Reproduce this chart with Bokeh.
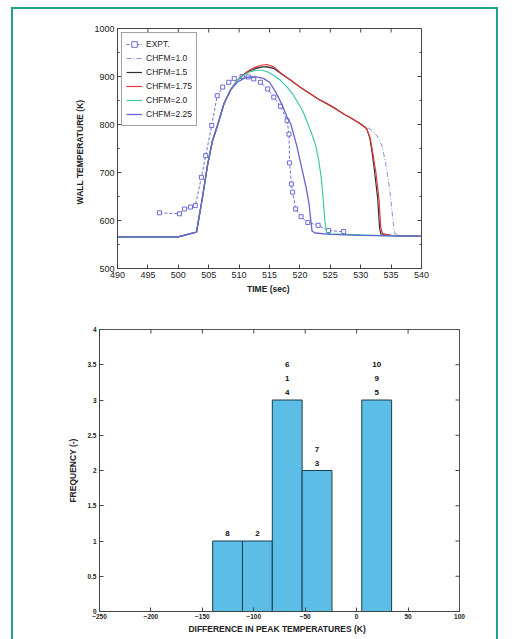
import math
from bokeh.plotting import figure
from bokeh.models import FixedTicker, Legend, LegendItem, ColumnDataSource
from bokeh.core.properties import value
from bokeh.embed import file_html
from bokeh.resources import INLINE

FONT = "Liberation Sans"
FRAME = "#1fa58e"

# ---------------- wall temperature transients ----------------
expt_t = [496.9, 500.2, 501.0, 502.0, 502.8, 503.8, 504.5, 505.5, 506.4, 507.3, 508.3, 509.2,
          510.5, 511.5, 512.4, 513.5, 514.7, 515.7, 516.8, 517.9, 518.2, 518.3, 518.6, 518.8,
          519.3, 520.2, 521.3, 523.0, 524.7, 527.2]
expt_T = [616, 614, 624, 628, 631, 690, 735, 798, 860, 878, 888, 896,
          900, 899, 895, 888, 874, 857, 838, 808, 780, 720, 676, 659,
          624, 608, 596, 590, 579, 577]

chfm10_t = [490, 500, 503, 504, 504.8, 505.6, 506.5, 507.5, 508.6, 509.7, 510.8, 511.8, 512.8,
            513.8, 514.6, 515.7, 517, 518.5, 520, 521.7, 523, 524.5, 526, 527.2, 528.6, 530,
            531, 532, 532.7, 533.5, 534.1, 534.6, 535.0, 535.3, 535.6, 536.5, 540]
chfm10_T = [566, 566, 576, 650, 715, 765, 800, 843, 872, 892, 904, 912, 917,
            920, 920, 917, 905, 892, 878, 864, 853, 843, 832, 822, 812, 801,
            795, 786, 776, 756, 720, 680, 640, 600, 573, 569, 567]

chfm15_t = [490, 500, 503, 504, 504.8, 505.6, 506.5, 507.5, 508.6, 509.7, 510.8, 511.8, 512.8,
            513.8, 514.6, 515.7, 517, 518.5, 520, 521.7, 523, 524.5, 526, 527.2, 528.6, 530,
            531, 531.5, 531.9, 532.3, 532.8, 533.1, 533.3, 535, 540]
chfm15_T = [566, 566, 576, 650, 715, 765, 800, 843, 872, 892, 904, 912, 917,
            920, 920, 917, 905, 892, 878, 864, 853, 843, 832, 822, 812, 801,
            791, 772, 740, 700, 645, 585, 572, 569, 567]

chfm175_t = [490, 500, 503, 504, 504.8, 505.6, 506.5, 507.5, 508.6, 509.7, 510.8, 511.8, 512.8,
             513.8, 514.6, 515.7, 517, 518.5, 520, 521.7, 523, 524.5, 526, 527.2, 528.6, 530,
             531, 531.6, 532.0, 532.5, 533.0, 533.3, 533.6, 535, 540]
chfm175_T = [566, 566, 576, 650, 715, 765, 800, 843, 872, 892, 905, 914, 920,
             924, 925, 920, 906, 892, 878, 864, 853, 843, 832, 822, 812, 801,
             791, 770, 740, 700, 645, 585, 572, 569, 567]

chfm20_t = [490, 500, 503, 504, 504.8, 505.6, 506.5, 507.5, 508.6, 509.7, 510.8, 511.8, 512.8,
            513.8, 514.8, 515.7, 516.8, 517.9, 518.8, 519.6, 520.5, 521.2, 521.9, 522.6, 523.1,
            523.5, 523.8, 524.1, 524.4, 525, 530, 535, 540]
chfm20_T = [566, 566, 576, 650, 715, 765, 800, 843, 872, 892, 903, 910, 913,
            913, 909, 902, 892, 878, 864, 847, 827, 805, 782, 756, 725,
            690, 650, 600, 574, 572, 570, 568, 567]

chfm225_t = [490, 500, 503, 504, 504.8, 505.6, 506.5, 507.5, 508.6, 509.7, 510.8, 511.8, 512.8,
             514, 515, 516, 517, 518, 518.5, 519.5, 520.4, 521.0, 521.5, 521.8, 522.0, 522.5,
             525, 530, 535, 540]
chfm225_T = [566, 566, 576, 650, 715, 765, 800, 843, 872, 888, 896, 899, 899,
             896, 888, 868, 843, 812, 801, 755, 704, 670, 635, 600, 578, 574,
             571, 569, 568, 567]

time_ticks = [490, 495, 500, 505, 510, 515, 520, 525, 530, 535, 540]
temp_ticks = [500, 600, 700, 800, 900, 1000]
temp_minor = [550, 650, 750, 850, 950]

# ---------------- peak temperature difference histogram ----------------
bin_edges = [-140, -111, -82, -53, -24, 5, 34]
bin_counts = [1, 1, 3, 2, 0, 3]
bin_cases = [["8"], ["2"], ["4", "1", "6"], ["3", "7"], [], ["5", "9", "10"]]
diff_ticks = [-250, -200, -150, -100, -50, 0, 50, 100]
freq_ticks = [0, 0.5, 1, 1.5, 2, 2.5, 3, 3.5, 4]
freq_tick_labels = ["0", "0.5", "1", "1.5", "2", "2.5", "3", "3.5", "4"]

AX = "#444444"


def style_axis(ax, ticks, font_size, bold, minor=None):
    ax.ticker = FixedTicker(ticks=ticks, minor_ticks=minor or [])
    ax.axis_line_color = AX
    ax.major_tick_line_color = AX
    ax.minor_tick_line_color = AX
    ax.major_tick_in = 4
    ax.major_tick_out = 0
    ax.minor_tick_in = 2
    ax.minor_tick_out = 0
    ax.major_label_text_font = FONT
    ax.major_label_text_color = "#222222"
    ax.major_label_text_font_size = font_size
    ax.major_label_text_font_style = "bold" if bold else "normal"
    ax.axis_label_text_font = FONT
    ax.axis_label_text_font_style = "bold"
    ax.axis_label_text_color = "#222222"


def mirror_ticks(p, xs, ys, vertical, size):
    # inward tick marks on the top / right frame edges (half of each dash is clipped away)
    p.scatter(xs, ys, marker="dash", size=size, angle=math.pi / 2 if vertical else 0,
              line_color=AX, line_width=1)


# ----- top: temperature transients -----
p1 = figure(width=487, height=291, x_range=(time_ticks[0], time_ticks[-1]),
            y_range=(temp_ticks[0], temp_ticks[-1]),
            output_backend="svg", toolbar_location=None,
            min_border_left=104, min_border_right=79, min_border_top=19, min_border_bottom=32,
            x_axis_label="TIME  (sec)", y_axis_label="WALL  TEMPERATURE   (K)",
            styles={"border-left": f"2px solid {FRAME}", "border-top": f"2px solid {FRAME}",
                    "border-right": f"2px solid {FRAME}", "margin-left": "11px",
                    "margin-top": "7px"})
p1.grid.visible = False
p1.outline_line_color = AX
p1.border_fill_color = "white"

style_axis(p1.xaxis[0], time_ticks, "9px", False)
style_axis(p1.yaxis[0], temp_ticks, "9px", False, minor=temp_minor)
p1.xaxis[0].axis_label_text_font_size = "8.5px"
p1.yaxis[0].axis_label_text_font_size = "8.5px"
p1.xaxis[0].major_label_standoff = 3
p1.yaxis[0].major_label_standoff = 3
p1.xaxis[0].axis_label_standoff = 3
p1.yaxis[0].axis_label_standoff = 6

mirror_ticks(p1, time_ticks, [temp_ticks[-1]] * len(time_ticks), True, 8)
mirror_ticks(p1, [time_ticks[-1]] * len(temp_ticks), temp_ticks, False, 8)
mirror_ticks(p1, [time_ticks[-1]] * len(temp_minor), temp_minor, False, 4)

r_e1 = p1.line(expt_t, expt_T, line_color="#6a6ad8", line_width=1, line_dash="3 2")
r_e2 = p1.scatter(expt_t, expt_T, marker="square", size=4, fill_color="white",
                  line_color="#6a6ad8", line_width=1)
r10 = p1.line(chfm10_t, chfm10_T, line_color="#8c8ce6", line_width=1, line_dash="5 2 1 2")
r15 = p1.line(chfm15_t, chfm15_T, line_color="#303030", line_width=1.2)
r175 = p1.line(chfm175_t, chfm175_T, line_color="#e23a3a", line_width=1.2)
r20 = p1.line(chfm20_t, chfm20_T, line_color="#3ccaa0", line_width=1.2)
r225 = p1.line(chfm225_t, chfm225_T, line_color="#6464d4", line_width=1.3)

legend = Legend(items=[
    LegendItem(label="EXPT.", renderers=[r_e1, r_e2]),
    LegendItem(label="CHFM=1.0", renderers=[r10]),
    LegendItem(label="CHFM=1.5", renderers=[r15]),
    LegendItem(label="CHFM=1.75", renderers=[r175]),
    LegendItem(label="CHFM=2.0", renderers=[r20]),
    LegendItem(label="CHFM=2.25", renderers=[r225]),
], location="top_left")
legend.margin = 4
legend.padding = 4
legend.spacing = 0
legend.glyph_width = 16
legend.glyph_height = 14
legend.label_height = 14
legend.label_standoff = 4
legend.label_text_font = FONT
legend.label_text_font_size = "8.5px"
legend.label_text_color = "#222222"
legend.border_line_color = AX
legend.border_line_width = 1
legend.background_fill_alpha = 1
p1.add_layout(legend)

# ----- bottom: histogram of peak temperature differences -----
p2 = figure(width=487, height=345, x_range=(diff_ticks[0], diff_ticks[-1]),
            y_range=(freq_ticks[0], freq_ticks[-1]),
            output_backend="svg", toolbar_location=None,
            min_border_left=86, min_border_right=41, min_border_top=31, min_border_bottom=32,
            x_axis_label="DIFFERENCE IN PEAK TEMPERATURES   (K)", y_axis_label="FREQUENCY (-)",
            styles={"border-left": f"2px solid {FRAME}", "border-right": f"2px solid {FRAME}",
                    "margin-left": "11px"})
p2.grid.visible = False
p2.outline_line_color = "#555555"
p2.border_fill_color = "white"

style_axis(p2.xaxis[0], diff_ticks, "6.5px", True)
style_axis(p2.yaxis[0], freq_ticks, "6.5px", True)
p2.yaxis[0].major_label_overrides = {t: s for t, s in zip(freq_ticks, freq_tick_labels)}
p2.xaxis[0].axis_label_text_font_size = "8.5px"
p2.yaxis[0].axis_label_text_font_size = "8.5px"
p2.xaxis[0].major_label_standoff = 2
p2.yaxis[0].major_label_standoff = 3
p2.xaxis[0].axis_label_standoff = 2
p2.yaxis[0].axis_label_standoff = 6

mirror_ticks(p2, diff_ticks, [freq_ticks[-1]] * len(diff_ticks), True, 8)
mirror_ticks(p2, [diff_ticks[-1]] * len(freq_ticks), freq_ticks, False, 8)

bars = ColumnDataSource(dict(
    left=[l for l, c in zip(bin_edges[:-1], bin_counts) if c > 0],
    right=[r for r, c in zip(bin_edges[1:], bin_counts) if c > 0],
    top=[c for c in bin_counts if c > 0],
))
p2.quad(left="left", right="right", bottom=0, top="top", source=bars,
        fill_color="#5cbde6", line_color="#1d3d4c", line_width=1)

lab_x, lab_y, lab_t = [], [], []
for i, cases in enumerate(bin_cases):
    centre = 0.5 * (bin_edges[i] + bin_edges[i + 1])
    for j, case in enumerate(cases):
        lab_x.append(centre)
        lab_y.append(bin_counts[i] + 0.1 + 0.2 * j)
        lab_t.append(case)
p2.text(x=lab_x, y=lab_y, text=lab_t, text_align="center", text_baseline="middle",
        text_font=value(FONT), text_font_size="8px", text_font_style="bold",
        text_color="#111111")

open("out.html", "w").write(file_html([p1, p2], INLINE))
